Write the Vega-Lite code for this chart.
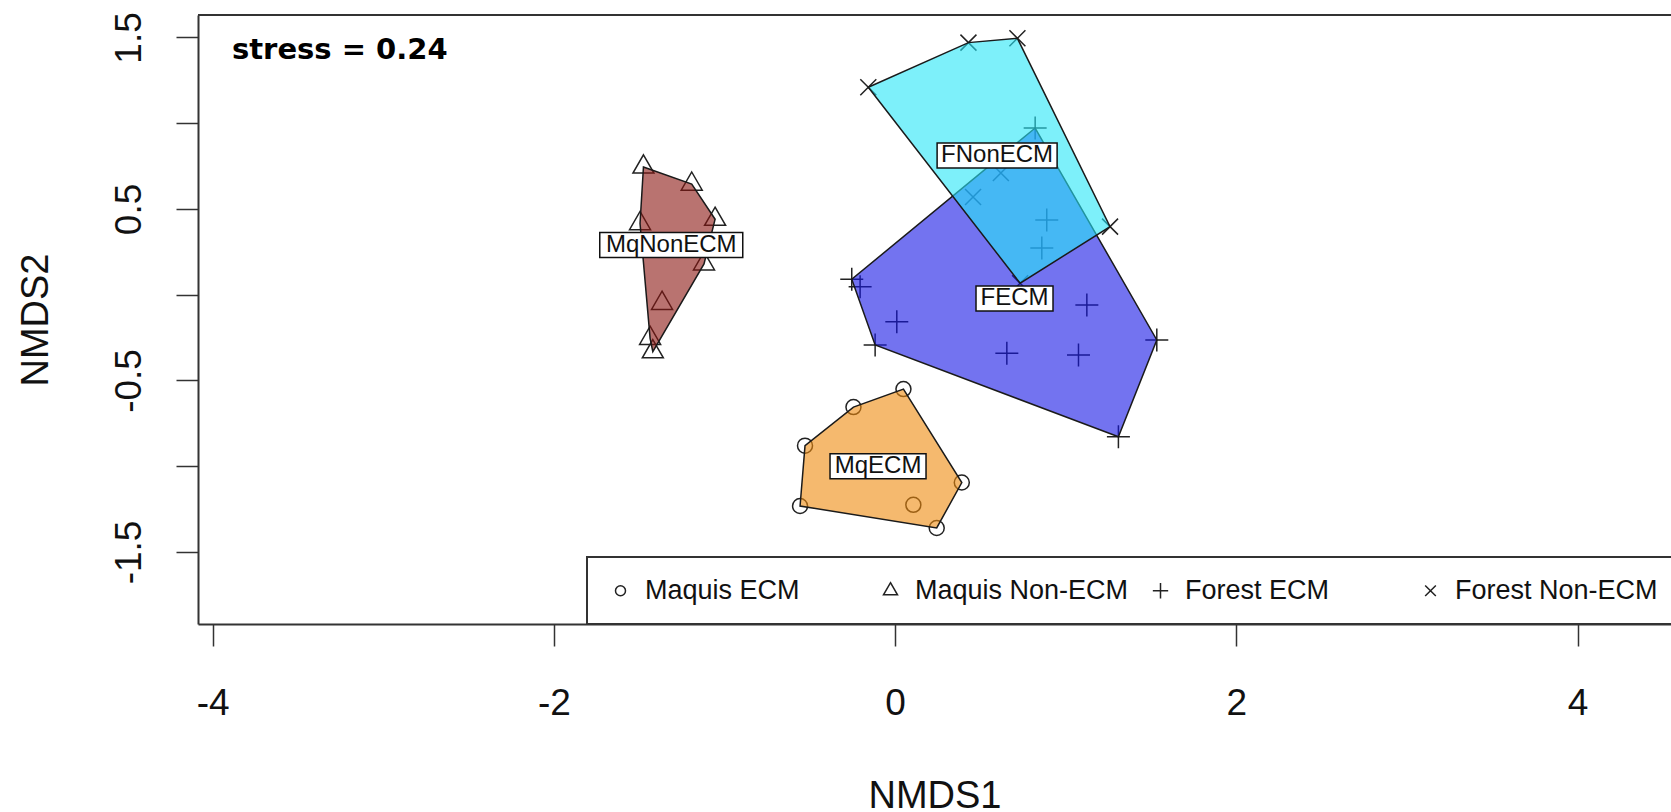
{
  "$schema": "https://vega.github.io/schema/vega-lite/v6.json",
  "width": 1473,
  "height": 609,
  "autosize": {"type": "none"},
  "padding": {"left": 198, "top": 15, "right": 0, "bottom": 188},
  "background": "white",
  "view": {"stroke": null},
  "title": {
    "text": "stress = 0.24",
    "orient": "top",
    "anchor": "start",
    "frame": "group",
    "offset": 0,
    "dx": 34,
    "dy": 76,
    "baseline": "alphabetic",
    "font": "DejaVu Sans",
    "fontSize": 29,
    "fontWeight": "bold",
    "color": "#000000"
  },
  "datasets": {
    "points": [
      {"group": "Maquis ECM", "NMDS1": 0.049, "NMDS2": -0.55},
      {"group": "Maquis ECM", "NMDS1": -0.244, "NMDS2": -0.655},
      {"group": "Maquis ECM", "NMDS1": -0.528, "NMDS2": -0.88},
      {"group": "Maquis ECM", "NMDS1": -0.557, "NMDS2": -1.232},
      {"group": "Maquis ECM", "NMDS1": 0.244, "NMDS2": -1.36},
      {"group": "Maquis ECM", "NMDS1": 0.391, "NMDS2": -1.095},
      {"group": "Maquis ECM", "NMDS1": 0.107, "NMDS2": -1.225},
      {"group": "Maquis Non-ECM", "NMDS1": -1.475, "NMDS2": 0.745},
      {"group": "Maquis Non-ECM", "NMDS1": -1.192, "NMDS2": 0.645},
      {"group": "Maquis Non-ECM", "NMDS1": -1.055, "NMDS2": 0.44},
      {"group": "Maquis Non-ECM", "NMDS1": -1.12, "NMDS2": 0.18},
      {"group": "Maquis Non-ECM", "NMDS1": -1.366, "NMDS2": -0.05},
      {"group": "Maquis Non-ECM", "NMDS1": -1.436, "NMDS2": -0.254},
      {"group": "Maquis Non-ECM", "NMDS1": -1.42, "NMDS2": -0.332},
      {"group": "Maquis Non-ECM", "NMDS1": -1.495, "NMDS2": 0.415},
      {"group": "Forest ECM", "NMDS1": 0.821, "NMDS2": 0.972},
      {"group": "Forest ECM", "NMDS1": -0.254, "NMDS2": 0.09},
      {"group": "Forest ECM", "NMDS1": -0.205, "NMDS2": 0.047},
      {"group": "Forest ECM", "NMDS1": 0.01, "NMDS2": -0.157},
      {"group": "Forest ECM", "NMDS1": -0.117, "NMDS2": -0.293},
      {"group": "Forest ECM", "NMDS1": 0.655, "NMDS2": -0.341},
      {"group": "Forest ECM", "NMDS1": 1.075, "NMDS2": -0.351},
      {"group": "Forest ECM", "NMDS1": 1.124, "NMDS2": -0.06},
      {"group": "Forest ECM", "NMDS1": 1.534, "NMDS2": -0.264},
      {"group": "Forest ECM", "NMDS1": 1.309, "NMDS2": -0.828},
      {"group": "Forest ECM", "NMDS1": 0.889, "NMDS2": 0.436},
      {"group": "Forest ECM", "NMDS1": 0.86, "NMDS2": 0.273},
      {"group": "Forest Non-ECM", "NMDS1": -0.157, "NMDS2": 1.21},
      {"group": "Forest Non-ECM", "NMDS1": 0.43, "NMDS2": 1.47},
      {"group": "Forest Non-ECM", "NMDS1": 0.717, "NMDS2": 1.495},
      {"group": "Forest Non-ECM", "NMDS1": 1.26, "NMDS2": 0.397},
      {"group": "Forest Non-ECM", "NMDS1": 0.733, "NMDS2": 0.067},
      {"group": "Forest Non-ECM", "NMDS1": 0.457, "NMDS2": 0.57},
      {"group": "Forest Non-ECM", "NMDS1": 0.62, "NMDS2": 0.71}
    ],
    "hulls": [
      {"group": "Forest ECM", "vertex": 1, "NMDS1": 0.821, "NMDS2": 0.972},
      {"group": "Forest ECM", "vertex": 2, "NMDS1": 1.534, "NMDS2": -0.264},
      {"group": "Forest ECM", "vertex": 3, "NMDS1": 1.309, "NMDS2": -0.828},
      {"group": "Forest ECM", "vertex": 4, "NMDS1": -0.117, "NMDS2": -0.293},
      {"group": "Forest ECM", "vertex": 5, "NMDS1": -0.254, "NMDS2": 0.09},
      {"group": "Forest Non-ECM", "vertex": 1, "NMDS1": -0.157, "NMDS2": 1.21},
      {"group": "Forest Non-ECM", "vertex": 2, "NMDS1": 0.43, "NMDS2": 1.47},
      {"group": "Forest Non-ECM", "vertex": 3, "NMDS1": 0.717, "NMDS2": 1.495},
      {"group": "Forest Non-ECM", "vertex": 4, "NMDS1": 1.26, "NMDS2": 0.397},
      {"group": "Forest Non-ECM", "vertex": 5, "NMDS1": 0.733, "NMDS2": 0.067},
      {"group": "Maquis ECM", "vertex": 1, "NMDS1": 0.049, "NMDS2": -0.55},
      {"group": "Maquis ECM", "vertex": 2, "NMDS1": 0.391, "NMDS2": -1.095},
      {"group": "Maquis ECM", "vertex": 3, "NMDS1": 0.244, "NMDS2": -1.36},
      {"group": "Maquis ECM", "vertex": 4, "NMDS1": -0.557, "NMDS2": -1.232},
      {"group": "Maquis ECM", "vertex": 5, "NMDS1": -0.528, "NMDS2": -0.88},
      {"group": "Maquis ECM", "vertex": 6, "NMDS1": -0.244, "NMDS2": -0.655},
      {"group": "Maquis Non-ECM", "vertex": 1, "NMDS1": -1.475, "NMDS2": 0.745},
      {"group": "Maquis Non-ECM", "vertex": 2, "NMDS1": -1.192, "NMDS2": 0.645},
      {"group": "Maquis Non-ECM", "vertex": 3, "NMDS1": -1.055, "NMDS2": 0.44},
      {"group": "Maquis Non-ECM", "vertex": 4, "NMDS1": -1.12, "NMDS2": 0.18},
      {"group": "Maquis Non-ECM", "vertex": 5, "NMDS1": -1.42, "NMDS2": -0.332},
      {"group": "Maquis Non-ECM", "vertex": 6, "NMDS1": -1.436, "NMDS2": -0.254},
      {"group": "Maquis Non-ECM", "vertex": 7, "NMDS1": -1.495, "NMDS2": 0.415}
    ],
    "labels": [
      {"label": "MqNonECM", "NMDS1": -1.312, "NMDS2": 0.29},
      {"label": "FNonECM", "NMDS1": 0.598, "NMDS2": 0.812},
      {"label": "FECM", "NMDS1": 0.7, "NMDS2": -0.022},
      {"label": "MqECM", "NMDS1": -0.1, "NMDS2": -1.0}
    ]
  },
  "config": {
    "axis": {"grid": false, "labelFont": "Liberation Sans", "titleFont": "Liberation Sans"},
    "legend": {"strokeWidth": 2},
    "text": {"font": "Liberation Sans"}
  },
  "resolve": {"scale": {"shape": "independent"}},
  "layer": [
    {
      "data": {"name": "points"},
      "mark": {"type": "point", "filled": false, "stroke": "#222222", "strokeWidth": 1.5, "opacity": 1, "size": 400},
      "encoding": {
        "x": {
          "field": "NMDS1",
          "type": "quantitative",
          "scale": {"domain": [-4.086, 4.548], "zero": false, "nice": false},
          "axis": {
            "orient": "bottom",
            "values": [-4, -2, 0, 2, 4],
            "labelExpr": "datum.value < 0 ? '-' + abs(datum.value) : '' + datum.value",
            "title": "NMDS1",
            "tickSize": 22,
            "tickColor": "#333333",
            "tickWidth": 1.5,
            "labelPadding": 68,
            "labelBaseline": "alphabetic",
            "labelFontSize": 37,
            "labelColor": "#111111",
            "labelFlush": false,
            "labelOverlap": false,
            "titleFontSize": 38,
            "titleFontWeight": "normal",
            "titleColor": "#111111",
            "titleY": 183,
            "titleBaseline": "alphabetic",
            "domainColor": "#333333",
            "domainWidth": 2
          }
        },
        "y": {
          "field": "NMDS2",
          "type": "quantitative",
          "scale": {"domain": [-1.92, 1.631], "zero": false, "nice": false},
          "axis": {
            "orient": "left",
            "values": [-1.5, -1, -0.5, 0, 0.5, 1, 1.5],
            "labelExpr": "datum.value == 1.5 ? '1.5' : datum.value == 0.5 ? '0.5' : datum.value == -0.5 ? '-0.5' : datum.value == -1.5 ? '-1.5' : ''",
            "labelAngle": 270,
            "labelAlign": "center",
            "labelBaseline": "alphabetic",
            "labelPadding": 36,
            "labelFontSize": 37,
            "labelColor": "#111111",
            "labelOverlap": false,
            "labelFlush": false,
            "tickSize": 22,
            "tickColor": "#333333",
            "tickWidth": 1.5,
            "title": "NMDS2",
            "titleAngle": 270,
            "titleX": -151,
            "titleAlign": "center",
            "titleBaseline": "alphabetic",
            "titleFontSize": 38,
            "titleFontWeight": "normal",
            "titleColor": "#111111",
            "domainColor": "#333333",
            "domainWidth": 2
          }
        },
        "shape": {
          "field": "group",
          "type": "nominal",
          "scale": {
            "domain": ["Maquis ECM", "Maquis Non-ECM", "Forest ECM", "Forest Non-ECM"],
            "range": [
              "M-0.75,0A0.75,0.75,0,1,0,0.75,0A0.75,0.75,0,1,0,-0.75,0Z",
              "M0,-1.21L1.05,0.61L-1.05,0.61Z",
              "M-1.15,0H1.15M0,-1.15V1.15",
              "M-0.8,-0.8L0.8,0.8M-0.8,0.8L0.8,-0.8"
            ]
          },
          "legend": {
            "orient": "none",
            "legendX": 389,
            "legendY": 542,
            "direction": "horizontal",
            "columns": 4,
            "gridAlign": "all",
            "columnPadding": 18,
            "padding": 20,
            "title": null,
            "fillColor": "white",
            "strokeColor": "#333333",
            "labelFont": "Liberation Sans",
            "labelFontSize": 27,
            "labelColor": "#111111",
            "labelLimit": 400,
            "labelOffset": 11,
            "symbolSize": 178,
            "symbolStrokeColor": "#222222",
            "symbolFillColor": "transparent",
            "symbolStrokeWidth": 1.5
          }
        }
      }
    },
    {
      "data": {"name": "hulls"},
      "mark": {"type": "line", "interpolate": "linear-closed", "stroke": "#1a1a1a", "strokeWidth": 1.5, "fillOpacity": 0.6, "strokeOpacity": 1},
      "encoding": {
        "x": {"field": "NMDS1", "type": "quantitative"},
        "y": {"field": "NMDS2", "type": "quantitative"},
        "fill": {
          "field": "group",
          "type": "nominal",
          "scale": {
            "domain": ["Forest ECM", "Forest Non-ECM", "Maquis ECM", "Maquis Non-ECM"],
            "range": ["#1616E6", "#26E6F7", "#EE8A0D", "#8A1611"]
          },
          "legend": null
        },
        "order": {"field": "vertex", "type": "quantitative"}
      }
    },
    {
      "data": {"name": "labels"},
      "mark": {"type": "point", "filled": true, "fill": "white", "stroke": "#111111", "strokeWidth": 1.5, "opacity": 1, "size": 400},
      "encoding": {
        "x": {"field": "NMDS1", "type": "quantitative"},
        "y": {"field": "NMDS2", "type": "quantitative"},
        "shape": {
          "field": "label",
          "type": "nominal",
          "scale": {
            "domain": ["MqNonECM", "FNonECM", "FECM", "MqECM"],
            "range": [
              "M-7.15,-1.25H7.15V1.25H-7.15Z",
              "M-6,-1.25H6V1.25H-6Z",
              "M-3.85,-1.25H3.85V1.25H-3.85Z",
              "M-4.8,-1.25H4.8V1.25H-4.8Z"
            ]
          },
          "legend": null
        }
      }
    },
    {
      "data": {"name": "labels"},
      "mark": {"type": "text", "font": "Liberation Sans", "fontSize": 24, "color": "#111111", "align": "center", "baseline": "middle"},
      "encoding": {
        "x": {"field": "NMDS1", "type": "quantitative"},
        "y": {"field": "NMDS2", "type": "quantitative"},
        "text": {"field": "label", "type": "nominal"}
      }
    },
    {
      "data": {"values": [{}]},
      "mark": {"type": "rule", "stroke": "#333333", "strokeWidth": 2},
      "encoding": {"y": {"datum": 1.631, "type": "quantitative"}}
    }
  ]
}
